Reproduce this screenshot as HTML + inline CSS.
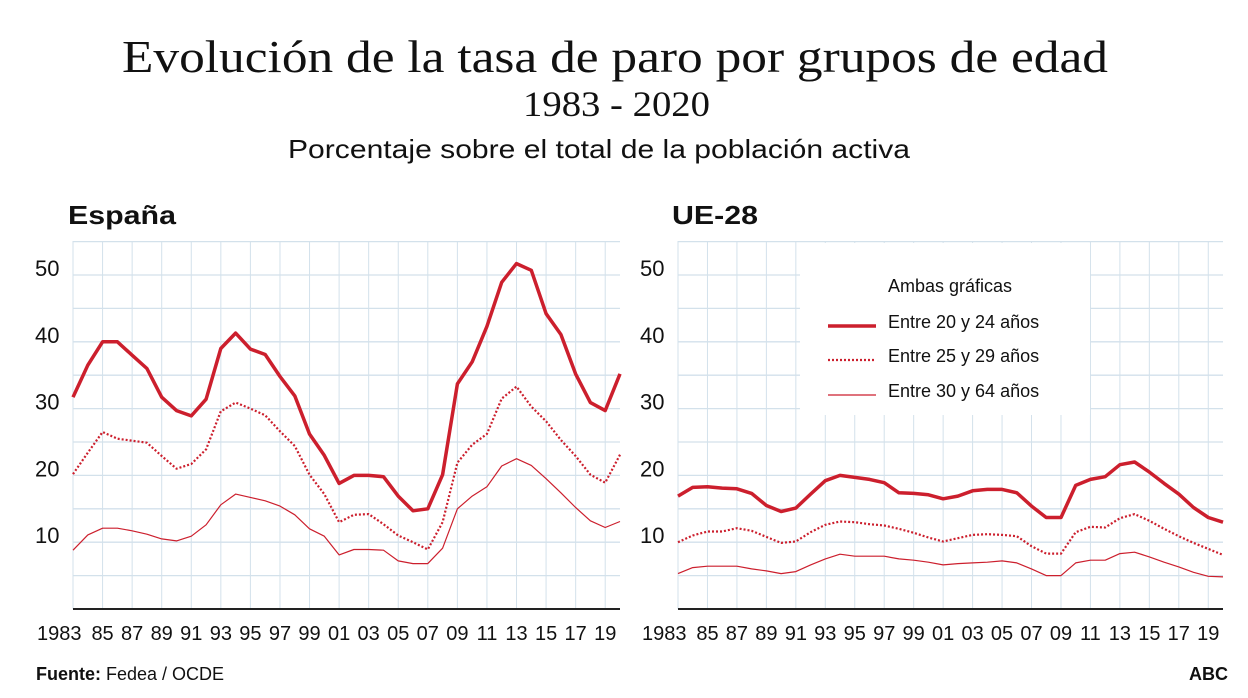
<!DOCTYPE html>
<html><head><meta charset="utf-8"><style>
html,body{margin:0;padding:0;background:#fff;}
svg{display:block;}
text{font-family:"Liberation Sans",sans-serif;fill:#111;}
</style></head><body>
<svg id="s" width="1248" height="698" viewBox="0 0 1248 698" xmlns="http://www.w3.org/2000/svg">
<text x="122" y="72" style="font-family:'Liberation Serif',serif" font-size="46" textLength="986" lengthAdjust="spacingAndGlyphs">Evolución de la tasa de paro por grupos de edad</text>
<text x="523" y="116" style="font-family:'Liberation Serif',serif" font-size="36" textLength="187" lengthAdjust="spacingAndGlyphs">1983 - 2020</text>
<text x="288" y="158" font-size="26" textLength="622" lengthAdjust="spacingAndGlyphs">Porcentaje sobre el total de la población activa</text>
<text x="68" y="224" font-size="26" font-weight="bold" textLength="108" lengthAdjust="spacingAndGlyphs">España</text>
<text x="672" y="224" font-size="26" font-weight="bold" textLength="86" lengthAdjust="spacingAndGlyphs">UE-28</text>
<g id="charts"></g>
<text x="36" y="680" font-size="18"><tspan font-weight="bold">Fuente:</tspan> Fedea / OCDE</text>
<text x="1228" y="680" font-size="18" font-weight="bold" text-anchor="end">ABC</text>
</svg>
<script>
var es=[[31.7,36.5,40,40,38,36,31.7,29.7,28.9,31.4,39,41.3,38.9,38.1,34.8,31.9,26.2,23,18.8,20,20,19.8,16.9,14.7,15,20.1,33.7,37,42.3,48.9,51.7,50.7,44.2,41.1,35.2,30.9,29.7,35.2],
[20.2,23.4,26.5,25.5,25.2,24.9,22.9,21,21.7,23.9,29.6,30.9,30,29,26.6,24.4,20.1,17.2,13,14.1,14.2,12.7,11,10,8.9,13,21.9,24.6,26.2,31.5,33.3,30.3,28.1,25.3,22.9,20.1,18.9,23.1],
[8.8,11.1,12.1,12.1,11.7,11.2,10.5,10.2,10.9,12.6,15.6,17.2,16.7,16.2,15.4,14.1,12,10.9,8.1,8.9,8.9,8.8,7.2,6.8,6.8,9.1,15,16.9,18.3,21.4,22.5,21.5,19.5,17.4,15.2,13.2,12.2,13.1]];
var eu=[[16.9,18.2,18.3,18.1,18,17.3,15.5,14.6,15.1,17.2,19.2,20,19.7,19.4,18.9,17.4,17.3,17.1,16.5,16.9,17.7,17.9,17.9,17.4,15.4,13.7,13.7,18.5,19.4,19.8,21.6,22,20.5,18.8,17.2,15.2,13.7,13],
[10,11,11.6,11.6,12.1,11.7,10.8,9.9,10.1,11.5,12.6,13.1,13,12.7,12.5,12,11.4,10.7,10.1,10.6,11.1,11.2,11.1,10.9,9.4,8.3,8.3,11.5,12.3,12.2,13.6,14.2,13.2,12,10.9,9.9,9,8.1],
[5.3,6.2,6.4,6.4,6.4,6,5.7,5.3,5.6,6.6,7.5,8.2,7.9,7.9,7.9,7.5,7.3,7,6.6,6.8,6.9,7,7.2,6.9,6,5,5,6.9,7.3,7.3,8.3,8.5,7.8,7,6.3,5.5,4.9,4.8]];
var RED="#cc1f2d",GRID="#d3e1eb";
var h='';
function Y(v){return 609-v*6.68;}
function chart(x0,x1,lx,data,legend){
  var dx=(x1-x0)/37;
  for(var k=0;k<=37;k+=2){var x=x0+k*dx;h+='<line x1="'+x+'" y1="241" x2="'+x+'" y2="609" stroke="'+GRID+'" stroke-width="1"/>';}
  if(legend){h+='<rect x="800" y="243" width="290" height="172" fill="#fff"/>';}
  for(var v=5;v<=55;v+=5){var y=Y(v);
    if(legend&&v>=30&&v<55){h+='<line x1="'+x0+'" y1="'+y+'" x2="800" y2="'+y+'" stroke="'+GRID+'" stroke-width="1.3"/><line x1="1090" y1="'+y+'" x2="'+x1+'" y2="'+y+'" stroke="'+GRID+'" stroke-width="1.3"/>';}
    else h+='<line x1="'+x0+'" y1="'+y+'" x2="'+x1+'" y2="'+y+'" stroke="'+GRID+'" stroke-width="1.3"/>';}
  for(var v=10;v<=50;v+=10){h+='<text x="'+lx+'" y="'+(Y(v)+1)+'" font-size="22">'+v+'</text>';}
  h+='<line x1="'+x0+'" y1="609" x2="'+x1+'" y2="609" stroke="#222" stroke-width="2"/>';
  var styles=[['3.5',''],['2.2','2 2'],['1.2','']];
  for(var s=0;s<3;s++){var p=data[s].map(function(v,i){return (x0+i*dx).toFixed(1)+','+Y(v).toFixed(1);}).join(' ');
    h+='<polyline points="'+p+'" fill="none" stroke="'+RED+'" stroke-width="'+styles[s][0]+'" stroke-linejoin="round"'+(styles[s][1]?' stroke-dasharray="'+styles[s][1]+'"':'')+'/>';}
  var labs=['85','87','89','91','93','95','97','99','01','03','05','07','09','11','13','15','17','19'];
  h+='<text x="'+(x0-36)+'" y="640" font-size="20">1983</text>';
  for(var k=0;k<labs.length;k++){h+='<text x="'+(x0+(2+2*k)*dx)+'" y="640" font-size="20" text-anchor="middle">'+labs[k]+'</text>';}
}
chart(73,620,35,es,false);
chart(678,1223,640,eu,true);
h+='<text x="888" y="292" font-size="18">Ambas gráficas</text>';
var ly=[322,356,391],lw=['3.5','2.2','1.2'],ld=['','2 2',''],lt=['Entre 20 y 24 años','Entre 25 y 29 años','Entre 30 y 64 años'];
for(var i=0;i<3;i++){h+='<line x1="828" y1="'+(ly[i]+4)+'" x2="876" y2="'+(ly[i]+4)+'" stroke="'+RED+'" stroke-width="'+lw[i]+'"'+(ld[i]?' stroke-dasharray="'+ld[i]+'"':'')+'/><text x="888" y="'+(ly[i]+6)+'" font-size="18">'+lt[i]+'</text>';}
document.getElementById('charts').innerHTML=h;
</script>
</body></html>
